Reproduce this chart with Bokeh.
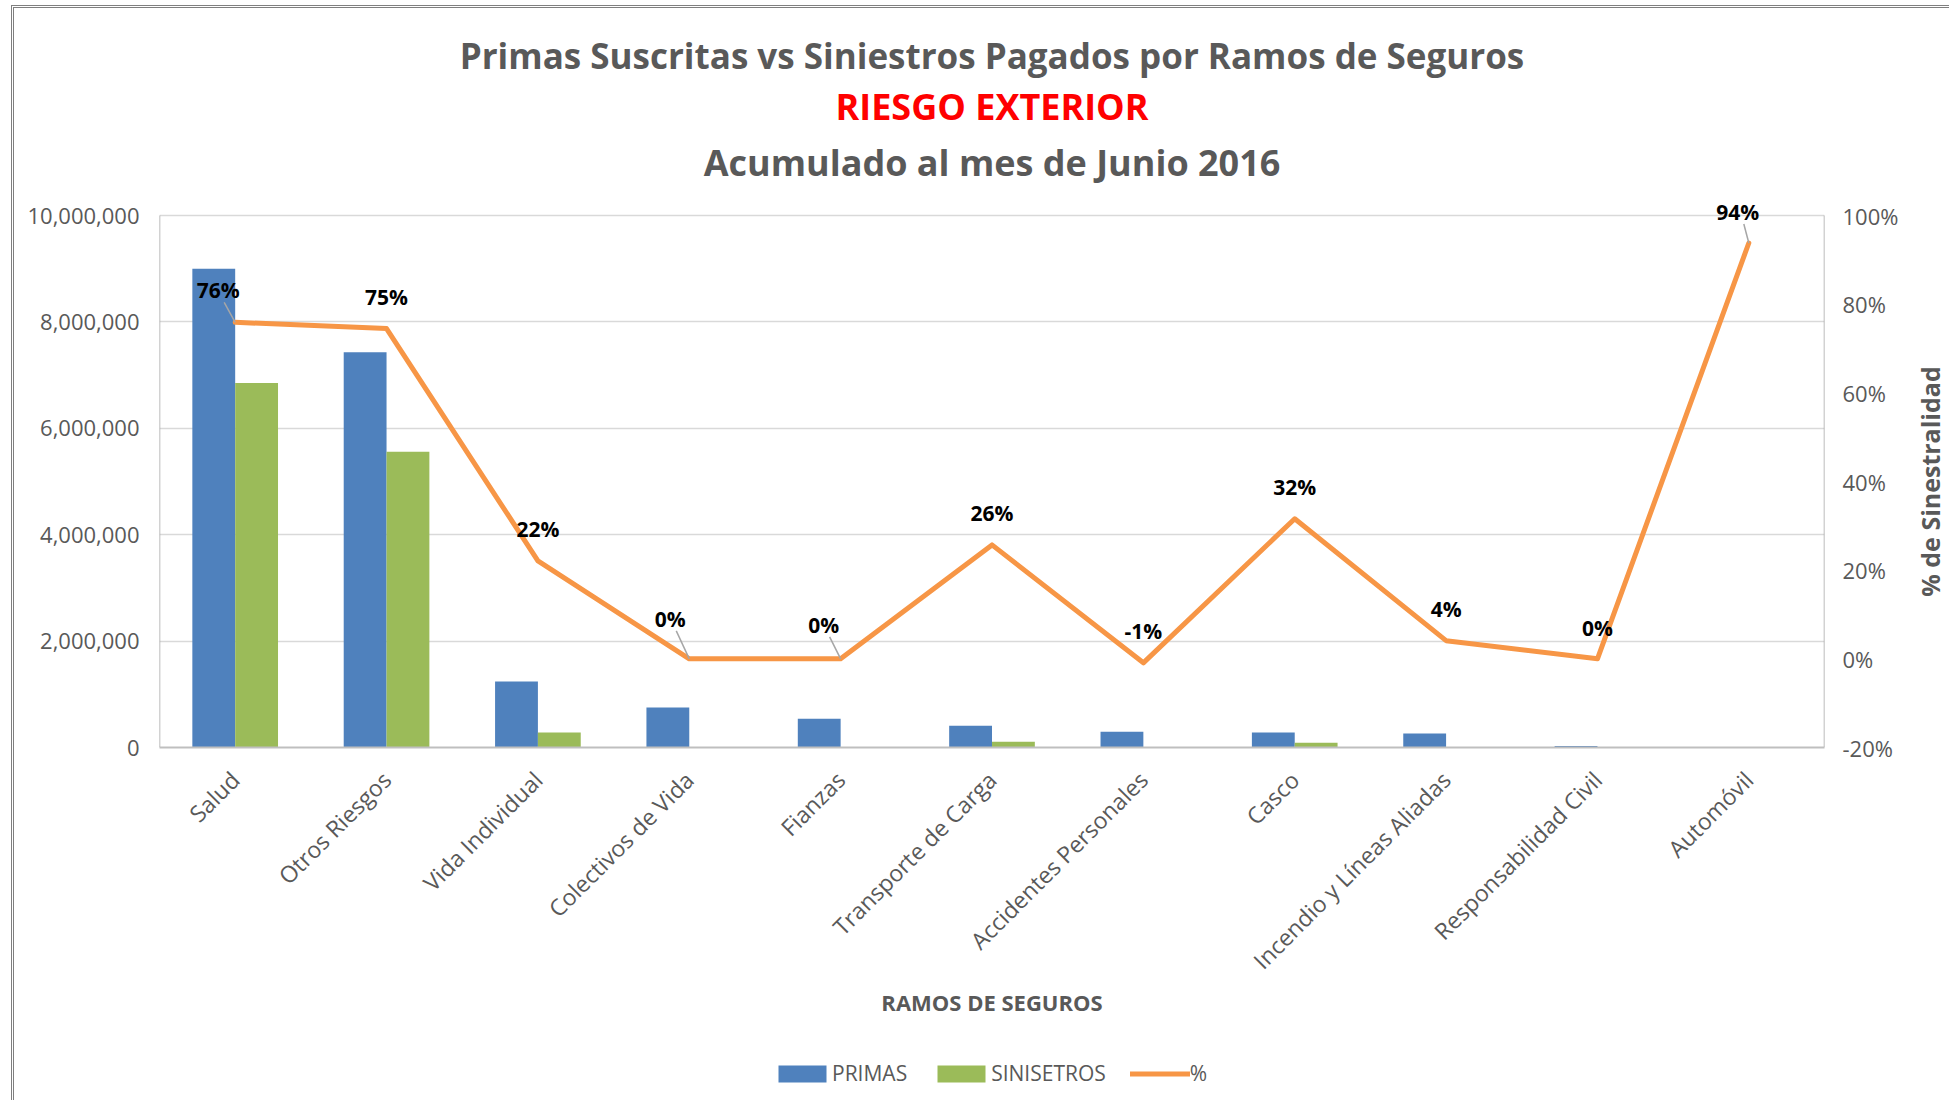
import math
from bokeh.plotting import figure
from bokeh.layouts import column, row
from bokeh.models import (ColumnDataSource, FactorRange, Range1d, LinearAxis, FixedTicker,
                          NumeralTickFormatter, Legend, LegendItem, Title)
from bokeh.transform import dodge
from bokeh.core.properties import value
from bokeh.embed import file_html
from bokeh.resources import INLINE

# ---------------- data ----------------
categories = ["Salud", "Otros Riesgos", "Vida Individual", "Colectivos de Vida", "Fianzas",
              "Transporte de Carga", "Accidentes Personales", "Casco",
              "Incendio y Líneas Aliadas", "Responsabilidad Civil", "Automóvil"]
primas = [9000000, 7430000, 1240000, 750000, 540000, 410000, 295000, 280000, 263000, 30000, 10000]
siniestros = [6850000, 5560000, 280000, 0, 0, 107000, -2700, 88000, 10800, 0, 9400]
pct = [0.759, 0.745, 0.221, 0.0, 0.0, 0.257, -0.009, 0.316, 0.041, 0.0, 0.938]
pct_labels = ["76%", "75%", "22%", "0%", "0%", "26%", "-1%", "32%", "4%", "0%", "94%"]
left_ticks = [0, 2000000, 4000000, 6000000, 8000000, 10000000]
right_ticks = [-0.2, 0.0, 0.2, 0.4, 0.6, 0.8, 1.0]
left_max = 10000000
right_min, right_max = -0.2, 1.0
series_names = ["PRIMAS", "SINISETROS", "%"]
right_title = "% de Sinestralidad"

# label placement (pixels) mimicking the original chart
label_dx = [-17, 0, 0, -19, -17, 0, 0, 0, 0, 0, -11]
label_dy = [32, 32, 32, 40, 34, 32, 32, 32, 32, 31, 31]

GRAY = "#595959"
BLUE = "#4F81BD"
GREEN = "#9BBB59"
ORANGE = "#F79646"
FONT = "Open Sans"

# layout (whole layout sits after an 11px/5px margin and a 3px border)
W, H = 1895, 1042
RW = 40                     # strip holding the right-axis title
ML, MR = 145, 85
FW = W - ML - MR            # plot-area width (1665)
AREA_H = 532                # height of the value area (0 .. 10,000,000)
EXTRA = 24                  # headroom above the value area for the top data label
MT = 207 - EXTRA
FH = AREA_H + EXTRA
MB = H - MT - FH

ytop = left_max * FH / AREA_H
ptop = right_min + (right_max - right_min) * FH / AREA_H

p = figure(x_range=FactorRange(factors=categories), y_range=Range1d(0, ytop),
           width=W, height=H, output_backend="svg", toolbar_location=None,
           min_border_left=ML, min_border_right=MR, min_border_top=MT, min_border_bottom=MB)
p.title = None
p.outline_line_color = None
p.background_fill_color = "white"
p.border_fill_color = "white"

src = ColumnDataSource(dict(cat=categories, primas=primas, sin=siniestros, pct=pct,
                            lab=pct_labels, dx=label_dx, dy=[-d for d in label_dy]))

# plot-area edges (left / right)
n = len(categories)
p.segment(x0=[0, n], y0=[0, 0], x1=[0, n], y1=[left_max, left_max],
          line_color="#A6A6A6", line_width=1.5)

r1 = p.vbar(x=dodge("cat", -0.1415, range=p.x_range), top="primas", width=0.283,
            source=src, fill_color=BLUE, line_color=None)
r2 = p.vbar(x=dodge("cat", 0.1415, range=p.x_range), top="sin", width=0.283,
            source=src, fill_color=GREEN, line_color=None)

p.extra_y_ranges = {"pct": Range1d(right_min, ptop)}
r3 = p.line(x="cat", y="pct", source=src, y_range_name="pct", line_color=ORANGE,
            line_width=5, line_join="round", line_cap="round")

# leader lines for displaced labels
pxx = FW / n
pxy = AREA_H / (right_max - right_min)
lx0, ly0, lx1, ly1 = [], [], [], []
for i, (dx, dy, v) in enumerate(zip(label_dx, label_dy, pct)):
    if dx != 0:
        lx0.append(i + 0.5 + (dx + 6) / pxx)
        ly0.append(v + (dy - 12) / pxy)
        lx1.append(i + 0.5)
        ly1.append(v)
p.segment(x0=lx0, y0=ly0, x1=lx1, y1=ly1, y_range_name="pct", line_color="#A6A6A6", line_width=1.5)

p.text(x="cat", y="pct", text="lab", source=src, y_range_name="pct",
       x_offset="dx", y_offset="dy", text_align="center", text_baseline="middle",
       text_font=value(FONT), text_font_style="bold", text_font_size="21px", text_color="black")

# axes
yl = p.yaxis[0]
yl.ticker = FixedTicker(ticks=left_ticks)
yl.formatter = NumeralTickFormatter(format="0,0")
yl.major_label_text_font = FONT
yl.major_label_text_font_size = "22px"
yl.major_label_text_color = GRAY
yl.major_tick_line_color = None
yl.minor_tick_line_color = None
yl.axis_line_color = None
yl.major_label_standoff = 20
yl.major_tick_out = 0
yl.major_tick_in = 0

yr = LinearAxis(y_range_name="pct", ticker=FixedTicker(ticks=right_ticks),
                formatter=NumeralTickFormatter(format="0%"))
yr.major_label_text_font = FONT
yr.major_label_text_font_size = "22px"
yr.major_label_text_color = GRAY
yr.major_tick_line_color = None
yr.minor_tick_line_color = None
yr.axis_line_color = None
yr.major_label_standoff = 18
yr.major_tick_out = 0
yr.major_tick_in = 0
p.add_layout(yr, "right")

xa = p.xaxis[0]
xa.major_label_orientation = math.pi / 4
xa.major_label_text_font = FONT
xa.major_label_text_font_size = "23px"
xa.major_label_text_color = GRAY
xa.major_tick_line_color = None
xa.axis_line_color = "#BFBFBF"
xa.axis_line_width = 2
xa.major_label_standoff = 28
xa.major_tick_out = 0
xa.axis_label = "RAMOS DE SEGUROS"
xa.axis_label_text_font = FONT
xa.axis_label_text_font_style = "bold"
xa.axis_label_text_font_size = "22px"
xa.axis_label_text_color = GRAY
xa.axis_label_standoff = -3

p.xgrid.grid_line_color = None
p.ygrid.grid_line_color = "#D9D9D9"
p.ygrid.grid_line_width = 1.5

# titles (nearest to the plot first)
titles = [("Acumulado al mes de Junio 2016", GRAY, "36px", 10),
          ("RIESGO EXTERIOR", "#FF0000", "36px", 0),
          ("Primas Suscritas vs Siniestros Pagados por Ramos de Seguros", GRAY, "35px", 2)]
for txt, col, fs, so in titles:
    p.add_layout(Title(text=txt, align="center", text_font=FONT, text_font_style="bold",
                       text_font_size=fs, text_color=col, standoff=so), "above")

# strip to the right holding the secondary-axis title (same vertical frame as the chart)
r = figure(x_range=Range1d(0, 1), y_range=Range1d(right_min, ptop), width=RW, height=H,
           output_backend="svg", toolbar_location=None, x_axis_type=None, y_axis_type=None,
           min_border_left=0, min_border_right=0, min_border_top=MT, min_border_bottom=MB)
r.title = None
r.grid.visible = False
r.outline_line_color = None
r.text(x=[0.5], y=[(right_min + right_max) / 2], text=[right_title], angle=math.pi / 2,
       text_align="center", text_baseline="middle", text_font=value(FONT),
       text_font_style="bold", text_font_size="25px", text_color=GRAY)

# legend strip below the chart
LH = 50
q = figure(x_range=Range1d(0, 1), y_range=Range1d(0, 1), width=W + RW, height=LH,
           output_backend="svg", toolbar_location=None, x_axis_type=None, y_axis_type=None,
           min_border_left=0, min_border_right=0, min_border_top=0, min_border_bottom=0)
q.title = None
q.grid.visible = False
q.outline_line_color = None
g1 = q.rect(x=[-5], y=[-5], width=[0.1], height=[0.1], fill_color=BLUE, line_color=None)
g2 = q.rect(x=[-5], y=[-5], width=[0.1], height=[0.1], fill_color=GREEN, line_color=None)
g3 = q.line(x=[-5, -4], y=[-5, -4], line_color=ORANGE, line_width=5, line_cap="round")
legend = Legend(items=[LegendItem(label=series_names[0], renderers=[g1]),
                       LegendItem(label=series_names[1], renderers=[g2]),
                       LegendItem(label=series_names[2], renderers=[g3])],
                orientation="horizontal", location=(758, 13),
                glyph_width=60, glyph_height=21, label_standoff=0, spacing=24,
                padding=0, margin=0, border_line_color=None, background_fill_alpha=0,
                label_text_font=FONT, label_text_font_size="21px", label_text_color=GRAY,
                label_height=24)
q.add_layout(legend, "center")

layout = column(row(p, r, spacing=0), q, spacing=0)
layout.styles = {"border-left": "3px double #7F7F7F", "border-top": "3px double #7F7F7F",
                 "margin-left": "11px", "margin-top": "5px"}

open("out.html", "w").write(file_html(layout, INLINE))
